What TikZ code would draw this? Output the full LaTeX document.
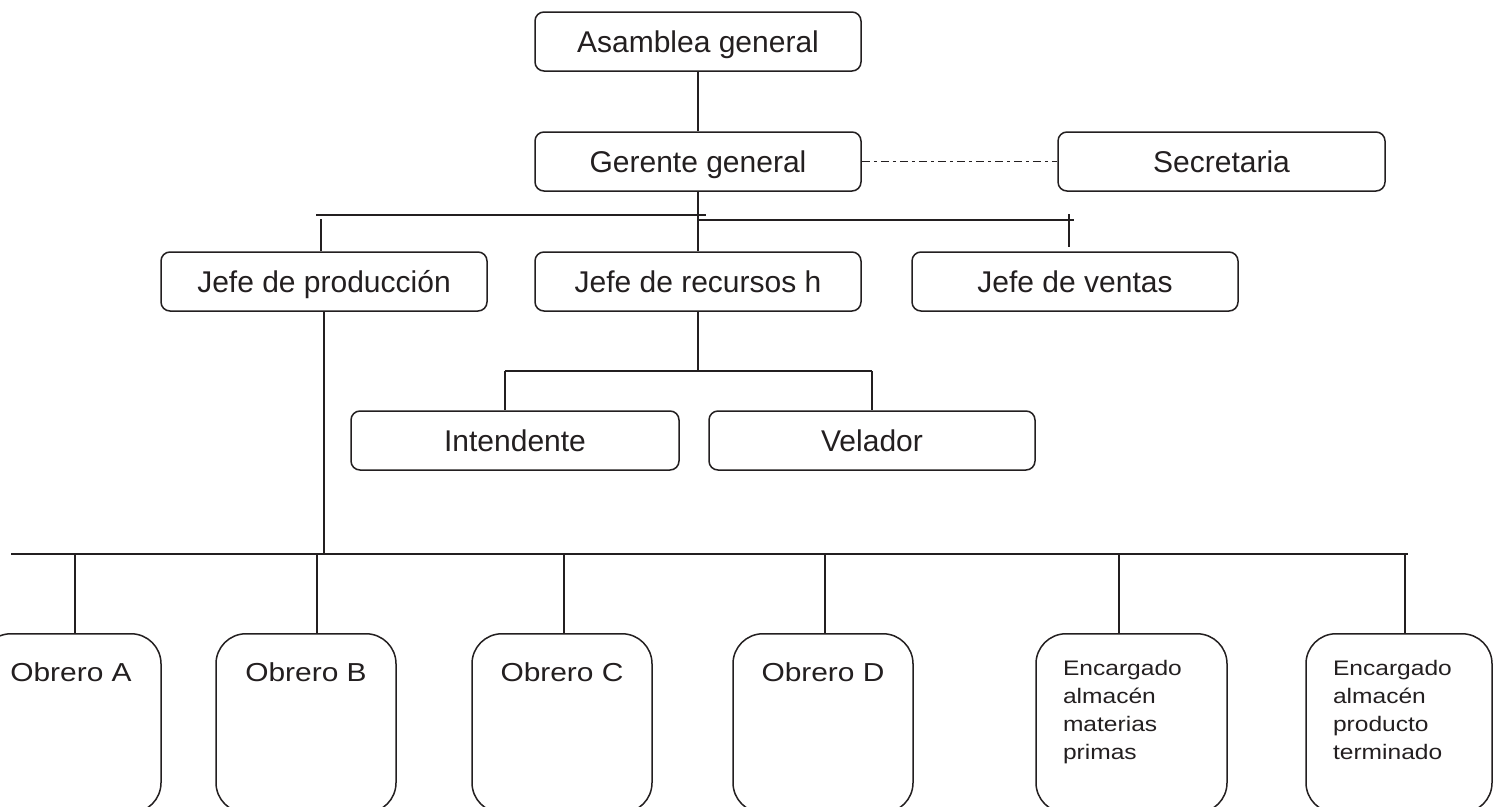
\documentclass[tikz,border=0pt]{standalone}
\usepackage{fontspec}
\setmainfont{Liberation Sans}
\newfontfamily\wideA[FakeStretch=1.15]{Liberation Sans}
\newfontfamily\wideB[FakeStretch=1.17]{Liberation Sans}
\definecolor{ink}{RGB}{35,31,32}
\begin{document}
\begin{tikzpicture}[x=1pt,y=-1pt,color=ink,line width=1.5pt,
  topbox/.style={draw, rounded corners=9pt, minimum width=326pt, minimum height=59pt,
    inner sep=0pt, text height=21.5pt, text depth=0pt, font=\fontsize{30}{36}\selectfont},
  obrbox/.style={draw, rounded corners=30pt, anchor=north, inner xsep=0pt, inner ysep=29pt,
    text height=19pt, text depth=102pt},
  encbox/.style={draw, rounded corners=30pt, anchor=north, inner xsep=27pt, inner ysep=26.5pt,
    text height=15.5pt, text depth=110.5pt},
  dashdot/.style={dash pattern=on 8pt off 4pt on 3pt off 4pt}]
\clip (0,0) rectangle (1501,806);
\fill[white] (0,0) rectangle (1501,806);

% top levels
\node[topbox] (asamblea) at (698,41.5) {Asamblea general};
\node[topbox] (gerente) at (698,161.5) {Gerente general};
\node[topbox, minimum width=327pt] (secretaria) at (1221.5,161.5) {Secretaria};

% heads
\node[topbox] (jprod) at (324,281.5) {Jefe de producción};
\node[topbox] (jrec) at (698,281.5) {Jefe de recursos h};
\node[topbox] (jven) at (1075,281.5) {Jefe de ventas};

% under recursos humanos
\node[topbox, minimum width=328pt] (intend) at (515,440.5) {Intendente};
\node[topbox] (velador) at (872,440.5) {Velador};

% workers
\node[obrbox] (obA) at (71,633) {\parbox[t]{180pt}{\centering\wideA\fontsize{26}{28}\selectfont Obrero A}};
\node[obrbox] (obB) at (306,633) {\parbox[t]{180pt}{\centering\wideA\fontsize{26}{28}\selectfont Obrero B}};
\node[obrbox] (obC) at (562,633) {\parbox[t]{180pt}{\centering\wideA\fontsize{26}{28}\selectfont Obrero C}};
\node[obrbox] (obD) at (823,633) {\parbox[t]{180pt}{\centering\wideA\fontsize{26}{28}\selectfont Obrero D}};
\node[encbox] (encMP) at (1131.5,633) {\parbox[t]{137pt}{\raggedright\wideB\fontsize{21}{28}\selectfont Encargado\\almacén\\materias\\primas}};
\node[encbox] (encPT) at (1399,633) {\parbox[t]{132pt}{\raggedright\wideB\fontsize{21}{28}\selectfont Encargado\\almacén\\producto\\terminado}};

% helper coordinates
\coordinate (b1L) at (316,215);
\coordinate (b1R) at (706,215);
\coordinate (p1) at (321,219);
\coordinate (b2R) at (1074,220);
\coordinate (t1) at (1069,214);
\coordinate (t2) at (1069,247);
\coordinate (r1) at (505,371);
\coordinate (r2) at (872,371);
\coordinate (bbL) at (11,554);
\coordinate (bbR) at (1408,554);
\coordinate (dA) at (75,554);
\coordinate (dB) at (317,554);
\coordinate (dC) at (564,554);
\coordinate (dD) at (825,554);
\coordinate (dE) at (1119,554);
\coordinate (dF) at (1405,554);

% connectors
\draw (asamblea.south) -- (gerente.north);
\draw (gerente.south) -- (jrec.north);
\draw[dashdot] (gerente.east) -- (secretaria.west);
\draw (b1L) -- (b1R);
\draw (p1) -- (p1 |- jprod.north);
\draw (gerente.south |- b2R) -- (b2R);
\draw (t1) -- (t2);
\draw (jrec.south) -- (jrec.south |- r1);
\draw (r1) -- (r2);
\draw (r1) -- (r1 |- intend.north);
\draw (r2) -- (r2 |- velador.north);
\draw (jprod.south) -- (jprod.south |- bbL);
\draw (bbL) -- (bbR);
\draw (dA) -- (dA |- obA.north);
\draw (dB) -- (dB |- obB.north);
\draw (dC) -- (dC |- obC.north);
\draw (dD) -- (dD |- obD.north);
\draw (dE) -- (dE |- encMP.north);
\draw (dF) -- (dF |- encPT.north);
\end{tikzpicture}
\end{document}
